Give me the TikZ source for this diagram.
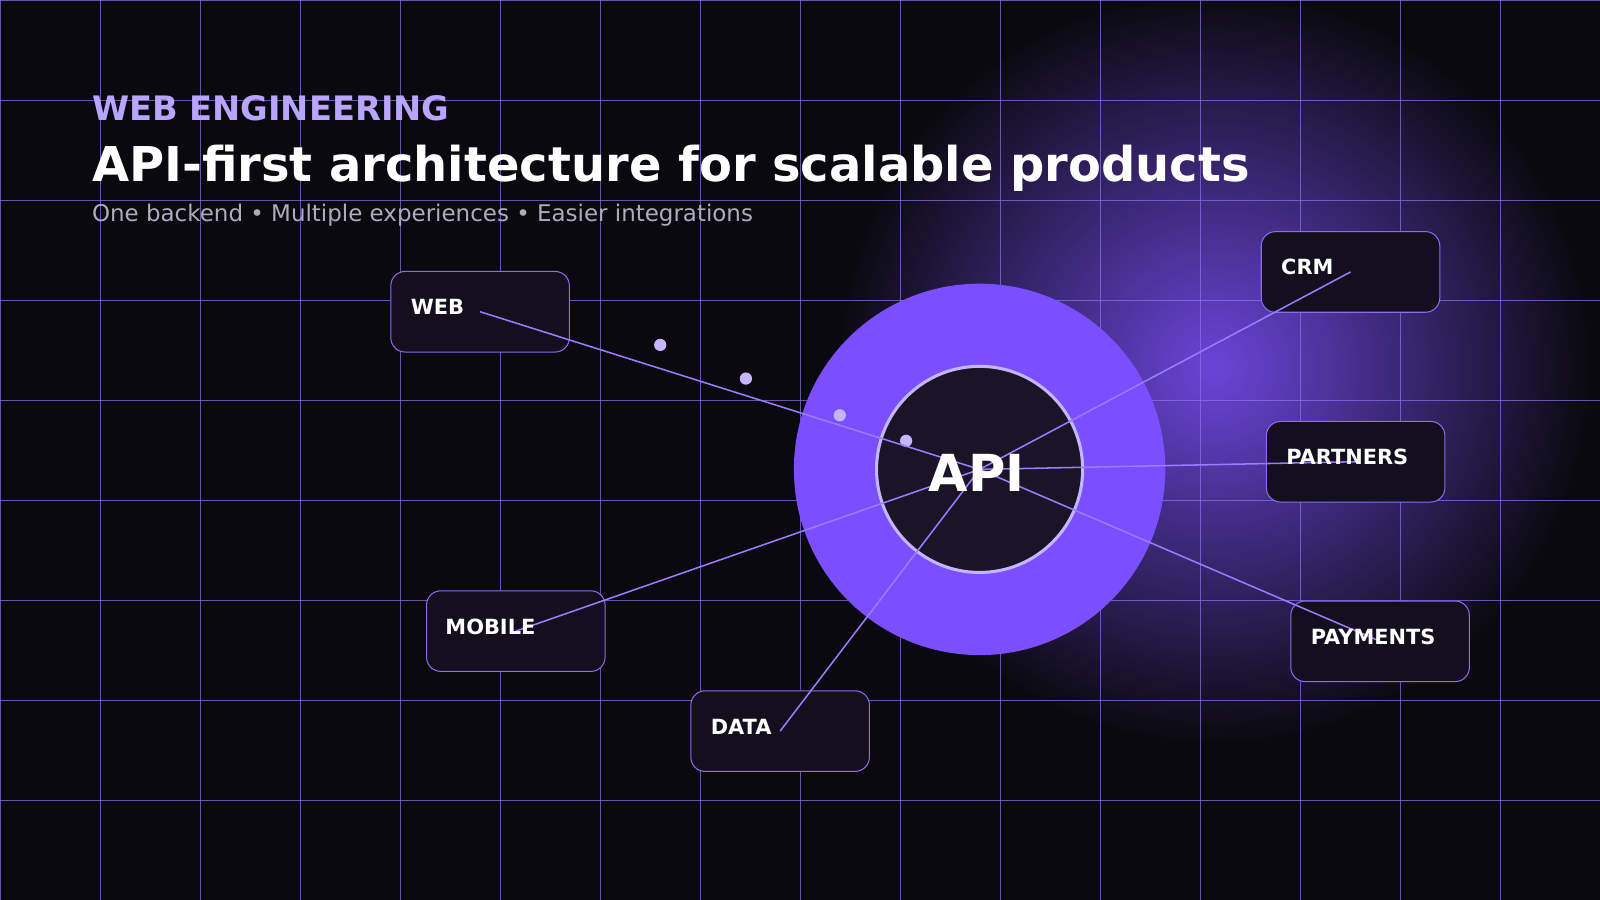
\documentclass[tikz,border=0pt]{standalone}
\usepackage{fontspec}
\setmainfont{DejaVu Sans}
\definecolor{bg}{HTML}{0A090F}
\definecolor{glow}{HTML}{6A45D8}
\definecolor{gridc}{HTML}{8B74F0}
\definecolor{ring}{HTML}{7B4FFF}
\definecolor{inner}{HTML}{1A1428}
\definecolor{lav}{HTML}{C4B5FD}
\definecolor{boxf}{HTML}{130F1E}
\definecolor{boxb}{HTML}{8B6CF0}
\definecolor{linec}{HTML}{9A7CFF}
\definecolor{kick}{HTML}{B9A5FF}
\definecolor{subc}{HTML}{B0AAC0}
\begin{document}
\begin{tikzpicture}[x=1pt,y=-1pt,
  box/.style={draw=boxb,line width=1pt,fill=boxf,rounded corners=14pt,minimum width=175pt,minimum height=79pt,inner sep=0pt},
  lbl/.style={text=white,font=\fontsize{20.5}{20.5}\selectfont\bfseries,anchor=west},
  conn/.style={draw=linec,line width=1.5pt},
  dot/.style={circle,fill=lav,minimum size=12pt,inner sep=0pt}]
\useasboundingbox (0,0) rectangle (1568,882);
\fill[bg] (0,0) rectangle (1568,882);
\begin{scope}
\clip (0,0) rectangle (1568,882);
\shade[inner color=glow, outer color=bg] (1190,360) circle (370pt);
\end{scope}
\foreach \x in {0,98,...,1568} \draw[gridc,opacity=0.7,line width=0.8pt] (\x,0) -- (\x,882);
\foreach \y in {0,98,...,882} \draw[gridc,opacity=0.7,line width=0.8pt] (0,\y) -- (1568,\y);
\node[circle,fill=ring,minimum size=364pt,inner sep=0pt] (ringo) at (960,460) {};
\node[circle,fill=inner,draw=lav,line width=3pt,minimum size=202pt,inner sep=0pt] (api) at (960,460) {};
\node[box] (web) at (470.5,305.5) {};
\node[box] (crm) at (1323.5,266.5) {};
\node[box] (par) at (1328.5,452.5) {};
\node[box] (pay) at (1352.5,628.5) {};
\node[box] (mob) at (505.5,618.5) {};
\node[box] (dat) at (764.5,716.5) {};
\node[dot] (d1) at (647,338) {};
\node[dot] (d2) at (731,371) {};
\node[dot] (d3) at (823,407) {};
\node[dot] (d4) at (888,432) {};
\foreach \n in {web,crm,par,pay,mob,dat} \draw[conn] (\n.center) -- (api.center);
\node[text=white,font=\fontsize{50}{50}\selectfont\bfseries] (apit) at (957,463) {API};
\node[lbl] (tw) at (399,301) {WEB};
\node[lbl] (tc) at (1252,262) {CRM};
\node[lbl] (tp) at (1257,448) {PARTNERS};
\node[lbl] (ty) at (1281,624) {PAYMENTS};
\node[lbl] (tm) at (433,614) {MOBILE};
\node[lbl] (td) at (693,712) {DATA};
\node[anchor=base west,inner sep=0pt,text=kick,font=\fontsize{33}{33}\selectfont\bfseries] (k) at (90,118) {WEB ENGINEERING};
\node[anchor=base west,inner sep=0pt,text=white,font=\fontsize{47}{47}\selectfont\bfseries] (t) at (90,178) {API-first architecture for scalable products};
\node[anchor=base west,inner sep=0pt,text=subc,font=\fontsize{22.5}{22.5}\selectfont] (s) at (90,217) {One backend • Multiple experiences • Easier integrations};
\end{tikzpicture}
\end{document}
